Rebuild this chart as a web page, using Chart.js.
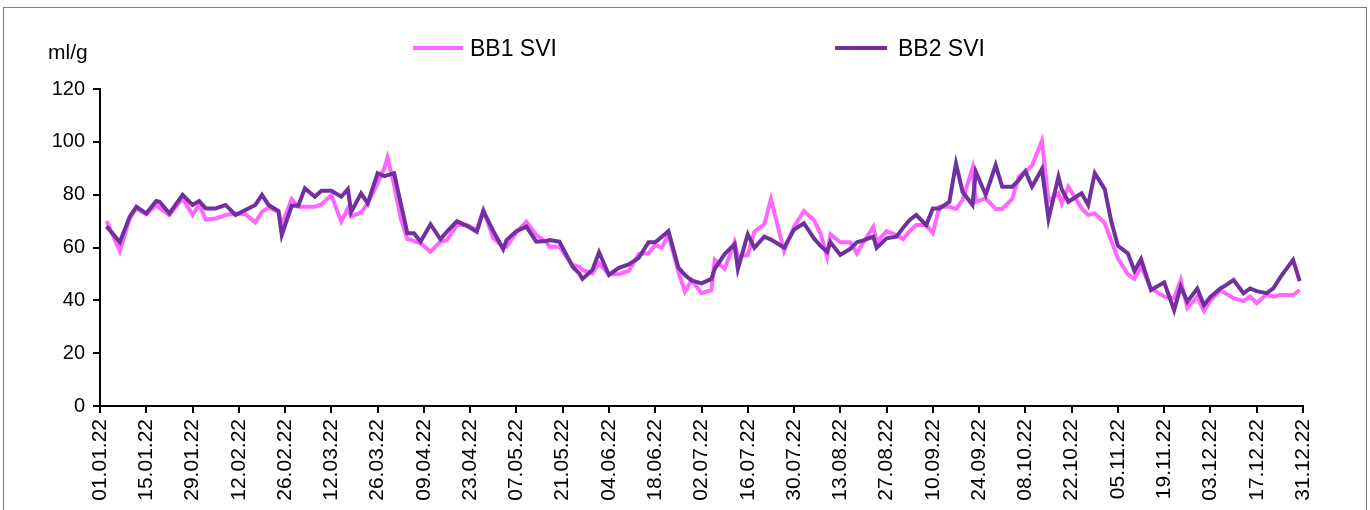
<!DOCTYPE html>
<html lang="de">
<head>
    <meta charset="UTF-8">
    <title>SVI</title>
    <style>
        *{
            margin:0;
            padding:0;
        }
        body{
            width: 1370px;
            height: 510px;
            overflow: hidden;
            background: #fff;
            font-family: "Liberation Sans", Arial, sans-serif;
        }
        .frame{
            position: absolute;
            left: 3px;
            top: 7px;
            width: 1362px;
            height: 510px;
            border: 1px solid #808080;
        }
        .unit{
            position: absolute;
            left: 44px;
            top: 33px;
            font-size: 21px;
            line-height: 21px;
            color: #000;
        }
        .leg{
            position: absolute;
            top: 27px;
            height: 26px;
            display: flex;
            align-items: center;
            font-size: 23px;
            color: #000;
        }
        .leg span.line{
            display: inline-block;
            height: 4px;
        }
    </style>
</head>
<body>
    <div class="frame">
        <canvas id="svi" width="1362" height="510"></canvas>
        <div class="unit">ml/g</div>
        <div class="leg" style="left:409px"><span class="line" style="background:#ff66ff;width:50px;margin-right:7px"></span>BB1 SVI</div>
        <div class="leg" style="left:831px"><span class="line" style="background:#7030a0;width:52px;margin-right:11px"></span>BB2 SVI</div>
    </div>
    <script src="https://cdn.jsdelivr.net/npm/chart.js@4.4.0/dist/chart.umd.min.js"></script>
    <script>
        // x labels, one every 14 days
        const tickLabels = ['01.01.22','15.01.22','29.01.22','12.02.22','26.02.22','12.03.22','26.03.22',
            '09.04.22','23.04.22','07.05.22','21.05.22','04.06.22','18.06.22','02.07.22','16.07.22',
            '30.07.22','13.08.22','27.08.22','10.09.22','24.09.22','08.10.22','22.10.22','05.11.22',
            '19.11.22','03.12.22','17.12.22','31.12.22'];

        // day of year (0 = 01.01.22)
        const days = [2,6,9,11,14,17,18,21,25,28,30,32,35,
            38,41,44,47,49,51,54,55,58,60,62,65,67,70,73,
            75,76,79,81,84,86,87,89,91,93,95,97,100,103,105,108,
            111,114,116,119,122,123,126,129,132,135,136,139,143,145,
            146,149,151,154,157,160,163,166,168,170,172,175,177,179,182,
            185,186,189,192,193,196,198,201,203,205,207,210,213,216,218,
            220,221,224,227,229,231,234,235,238,241,243,245,247,250,252,254,
            257,259,261,264,265,268,271,273,276,278,280,282,285,287,290,
            291,293,297,299,301,304,306,308,311,313,315,318,322,325,327,
            329,332,334,336,339,340,343,346,348,350,353,355,357,361,363];

        const bb1 = [70.0,58.7,71.0,74.8,72.6,76.1,75.0,72.3,78.6,72.3,76.3,70.6,71.0,
            72.3,72.9,72.6,69.5,73.5,75.1,73.5,68.5,78.3,75.4,75.4,75.4,76.3,79.9,69.8,
            74.8,71.7,73.3,76.7,84.3,90.0,94.1,83.6,71.0,63.2,62.5,61.6,58.4,62.2,62.8,68.5,
            68.5,66.6,74.2,63.5,60.3,60.3,65.7,69.8,64.7,62.2,60.3,60.3,53.4,52.7,
            51.5,50.2,54.0,49.8,50.0,51.1,57.5,57.8,60.9,59.9,65.0,50.8,43.3,47.7,42.7,
            43.9,55.3,51.9,62.0,56.5,57.2,66.0,68.8,78.3,68.5,58.7,67.9,73.8,70.4,65.4,
            56.5,65.0,62.0,62.0,57.8,62.0,67.9,62.0,66.2,64.7,63.2,66.2,68.5,68.5,65.4,75.4,
            75.4,74.6,78.0,90.0,77.3,78.6,74.6,74.6,78.3,86.8,88.7,91.0,100.3,77.6,80.5,
            76.7,83.0,74.8,72.3,72.9,69.2,62.5,55.9,49.8,48.1,52.7,44.5,41.4,40.8,47.7,
            37.2,41.4,36.0,40.0,43.9,43.0,40.8,39.7,41.4,38.9,42.3,41.4,42.0,42.0,43.9];

        const bb2 = [68.0,62.0,71.7,75.4,72.9,77.6,77.3,72.9,79.9,76.1,77.6,74.8,74.8,
            76.1,72.3,74.2,76.1,79.9,76.1,73.8,64.7,75.8,75.8,82.4,79.2,81.5,81.5,79.2,
            82.1,73.5,80.5,76.7,88.1,87.0,87.4,88.1,76.7,65.4,65.4,62.2,68.8,63.1,66.0,70.0,
            68.2,66.0,73.8,66.2,59.4,62.8,66.2,67.9,62.2,62.5,62.8,62.2,52.7,50.2,
            48.1,51.5,58.2,49.6,52.3,53.6,56.1,62.0,62.0,64.1,66.2,52.4,49.6,47.5,46.4,
            48.1,51.9,57.5,61.2,51.9,65.0,59.9,64.1,63.0,61.5,59.9,66.8,69.2,63.5,60.6,
            58.4,62.0,57.2,59.5,62.0,62.7,64.1,59.9,63.5,64.1,67.5,70.4,72.3,68.5,74.8,74.8,
            77.3,91.8,81.1,76.1,88.7,79.9,91.2,83.0,83.0,85.5,88.9,83.0,89.7,70.8,86.8,
            82.0,77.3,80.5,76.1,88.1,82.1,69.8,60.6,57.8,51.1,55.6,43.9,46.8,36.3,45.2,
            39.5,44.5,38.2,41.3,44.5,45.2,47.7,42.7,44.5,43.5,42.7,44.5,48.5,55.3,47.3];

        const pts = arr => arr.map((v, i) => ({x: days[i], y: v}));

        const font = {family: '"Liberation Sans", Arial, sans-serif', size: 20};

        new Chart(document.getElementById('svi'), {
            type: 'line',
            data: {
                datasets: [{
                    label: 'BB1 SVI',
                    data: pts(bb1),
                    borderColor: '#ff66ff',
                    borderWidth: 4,
                    pointRadius: 0,
                    tension: 0,
                    order: 1,
                },{
                    label: 'BB2 SVI',
                    data: pts(bb2),
                    borderColor: '#7030a0',
                    borderWidth: 4,
                    pointRadius: 0,
                    tension: 0,
                    order: 0,
                }]
            },
            options: {
                responsive: false,
                animation: false,
                layout: {padding: {top: 81, right: 63, left: 0, bottom: 0}},
                plugins: {
                    legend: {display: false},
                    tooltip: {enabled: false},
                },
                scales: {
                    x: {
                        type: 'linear',
                        min: 0,
                        max: 364,
                        afterFit: s => { s.height = 112; },
                        border: {display: true, color: '#000', width: 2},
                        grid: {drawOnChartArea: false, drawTicks: true, tickLength: 7, color: '#000', lineWidth: 2},
                        ticks: {
                            stepSize: 14,
                            autoSkip: false,
                            maxRotation: 90,
                            minRotation: 90,
                            padding: 6,
                            color: '#000',
                            font: {family: font.family, size: 21},
                            callback: v => tickLabels[Math.round(v / 14)],
                        }
                    },
                    y: {
                        min: 0,
                        max: 120,
                        afterFit: s => { s.width = 96; },
                        border: {display: true, color: '#000', width: 2},
                        grid: {drawOnChartArea: false, drawTicks: true, tickLength: 7, color: '#000', lineWidth: 2},
                        ticks: {
                            stepSize: 20,
                            padding: 8,
                            color: '#000',
                            font: font,
                        }
                    }
                }
            }
        });
    </script>
</body>
</html>
